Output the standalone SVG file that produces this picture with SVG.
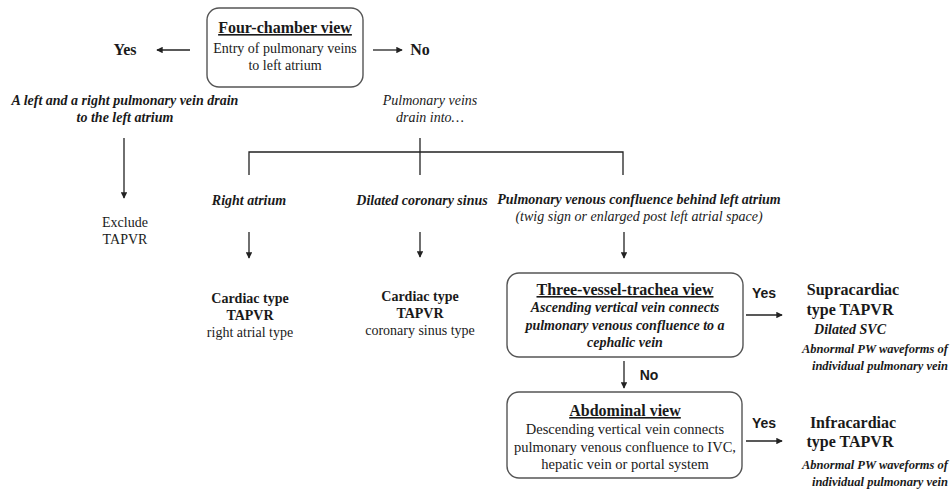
<svg xmlns="http://www.w3.org/2000/svg" width="952" height="489" viewBox="0 0 952 489">
<defs>
<marker id="ah" viewBox="0 0 8 8" refX="7" refY="4" markerWidth="5" markerHeight="5" orient="auto" markerUnits="strokeWidth">
<path d="M0,0 L8,4 L0,8 z" fill="#222"/>
</marker>
<style>
text{font-family:"Liberation Serif","Times New Roman",serif;fill:#1a1a1a;text-anchor:middle;font-size:14px}
.h{font-weight:bold;font-size:16px;text-decoration:underline}
.b{font-weight:bold}
.bi{font-weight:bold;font-style:italic}
.i{font-style:italic}
.big{font-weight:bold;font-size:16px}
.sm{font-weight:bold;font-style:italic;font-size:12.5px}
.ab{font-size:14.5px}
.yn{font-family:"Liberation Sans",Arial,sans-serif;font-weight:bold;font-size:14px}
.box{fill:#fff;stroke:#555;stroke-width:1.4}
.c{fill:none;stroke:#222;stroke-width:1.3}
.a{fill:none;stroke:#222;stroke-width:1.3;marker-end:url(#ah)}
</style>
</defs>
<rect width="952" height="489" fill="#fff"/>

<g id="connectors">
<line class="a" x1="190" y1="50" x2="157" y2="50"/>
<line class="a" x1="373" y1="50" x2="402" y2="50"/>
<line class="a" x1="124" y1="138" x2="124" y2="198"/>
<line class="c" x1="420" y1="138" x2="420" y2="175"/>
<polyline class="c" points="249,175 249,152 623,152 623,175"/>
<line class="a" x1="249" y1="232" x2="249" y2="258"/>
<line class="a" x1="420" y1="232" x2="420" y2="257"/>
<line class="a" x1="624" y1="232" x2="624" y2="258"/>
<line class="a" x1="746" y1="315" x2="782" y2="315"/>
<line class="a" x1="624" y1="361" x2="624" y2="388"/>
<line class="a" x1="746" y1="441" x2="782" y2="441"/>
</g>

<g id="four-chamber">
<rect class="box" x="207" y="8" width="156" height="79" rx="12"/>
<text class="h" x="285" y="33">Four-chamber view</text>
<text x="285" y="53">Entry of pulmonary veins</text>
<text x="285" y="70">to left atrium</text>
</g>

<g id="yes-top"><text class="big" x="125" y="55">Yes</text></g>
<g id="no-top"><text class="big" x="420" y="55">No</text></g>

<g id="left-drain">
<text class="bi" x="125" y="105">A left and a right pulmonary vein drain</text>
<text class="bi" x="125" y="122">to the left atrium</text>
</g>

<g id="pv-drain">
<text class="i" x="430" y="105">Pulmonary veins</text>
<text class="i" x="430" y="122">drain into…</text>
</g>

<g id="exclude">
<text x="125" y="227">Exclude</text>
<text x="125" y="244">TAPVR</text>
</g>

<g id="right-atrium"><text class="bi" x="249" y="205">Right atrium</text></g>
<g id="coronary-sinus"><text class="bi" x="422" y="205">Dilated coronary sinus</text></g>
<g id="confluence">
<text class="bi" x="639" y="204">Pulmonary venous confluence behind left atrium</text>
<text class="i" x="639" y="221">(twig sign or enlarged post left atrial space)</text>
</g>

<g id="cardiac-ra">
<text class="b" x="250" y="303">Cardiac type</text>
<text class="b" x="250" y="320">TAPVR</text>
<text x="250" y="337">right atrial type</text>
</g>

<g id="cardiac-cs">
<text class="b" x="420" y="301">Cardiac type</text>
<text class="b" x="420" y="318">TAPVR</text>
<text x="420" y="335">coronary sinus type</text>
</g>

<g id="three-vessel">
<rect class="box" x="507" y="273" width="236" height="84" rx="12"/>
<text class="h" x="625" y="295">Three-vessel-trachea view</text>
<text class="bi" x="625" y="312">Ascending vertical vein connects</text>
<text class="bi" x="625" y="330">pulmonary venous confluence to a</text>
<text class="bi" x="625" y="347">cephalic vein</text>
</g>

<g id="yes-1"><text class="yn" x="764" y="298">Yes</text></g>
<g id="no-1"><text class="yn" x="649" y="380">No</text></g>

<g id="supracardiac">
<text class="big" x="853" y="295">Supracardiac</text>
<text class="big" x="850" y="315">type TAPVR</text>
<text class="bi" x="850" y="334">Dilated SVC</text>
<text class="sm" x="875" y="353">Abnormal PW waveforms of</text>
<text class="sm" x="880" y="370">individual pulmonary vein</text>
</g>

<g id="abdominal">
<rect class="box" x="507" y="392" width="235" height="86" rx="12"/>
<text class="h" x="625" y="416">Abdominal view</text>
<text class="ab" x="625" y="434">Descending vertical vein connects</text>
<text class="ab" x="625" y="452">pulmonary venous confluence to IVC,</text>
<text class="ab" x="625" y="469">hepatic vein or portal system</text>
</g>

<g id="yes-2"><text class="yn" x="764" y="428">Yes</text></g>

<g id="infracardiac">
<text class="big" x="853" y="428">Infracardiac</text>
<text class="big" x="850" y="447">type TAPVR</text>
<text class="sm" x="875" y="469">Abnormal PW waveforms of</text>
<text class="sm" x="880" y="486">individual pulmonary vein</text>
</g>
</svg>
